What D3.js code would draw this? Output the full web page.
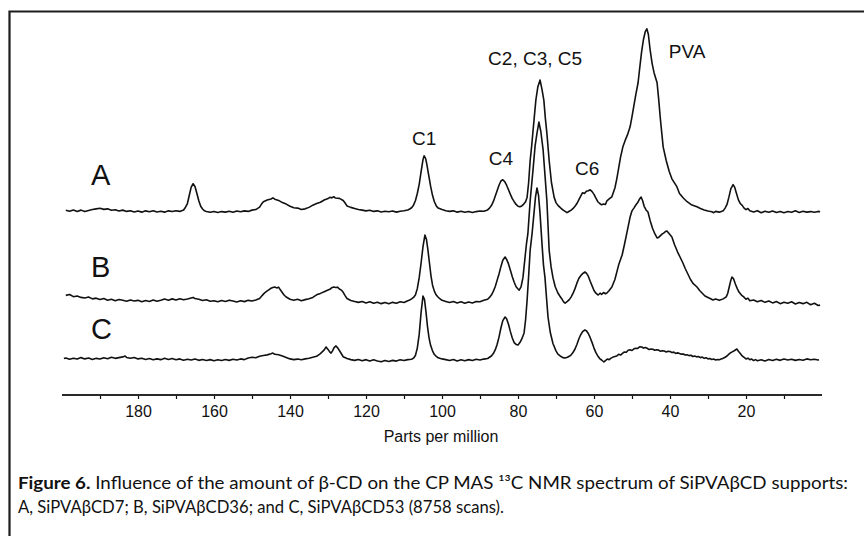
<!DOCTYPE html>
<html>
<head>
<meta charset="utf-8">
<script src="https://cdn.jsdelivr.net/npm/d3@7"></script>
<style>
  html, body { margin: 0; padding: 0; background: #fff; }
  svg { display: block; }
</style>
</head>
<body>
<svg id="chart" width="864" height="536"></svg>
<script>
// CP MAS 13C NMR spectra: [chemical shift (ppm), intensity (a.u., PVA peak of A = 100)]
const spectrumA = [
  [199,0.8],[198,0.3],[197,1.0],[196,0.2],[195,0.9],[194,0.1],[193,0.7],[192,1.2],[191,1.6],[190,1.9],
  [189,1.3],[188,1.6],[187,0.8],[186,1.1],[185,0.4],[184,0.9],[183,0.2],[182,0.6],[181,-0.1],[180,0.4],
  [179,-0.2],[178,0.5],[177,0.0],[176,0.6],[175,-0.1],[174,0.3],[173,-0.2],[172,0.5],[171,0.1],[170,0.6],
  [169,0.2],[168,1.0],[167.5,2.5],[167,4.5],[166.5,9],[166,13.5],[165.5,15.3],[165,13.8],[164.5,10],[164,6],
  [163.5,3],[163,1.5],[162.5,0.5],[162,0.2],[161,-0.3],[160,0.2],[159,-0.4],[158,0.1],[157,-0.2],[156,0.3],
  [155,-0.3],[154,0.4],[153,0.0],[152,0.5],[151,0.2],[150,0.9],[149,1.2],[148,2.5],[147.5,4.2],[147,5.5],
  [146,6.4],[145,7.0],[144.5,7.6],[144,6.9],[143,6.2],[142,5.0],[141,4.2],[140,3.0],[139,2.2],[138,2.0],
  [137,1.2],[136,1.6],[135,2.4],[134,3.6],[133,4.5],[132,5.2],[131,6.4],[130,7.2],[129.5,7.9],[129,7.6],
  [128.5,8.2],[128,7.5],[127,7.3],[126,6.2],[125.5,4.8],[125,3.2],[124,2.4],[123,1.8],[122,1.2],[121,0.9],
  [120,0.5],[119,0.8],[118,0.2],[117,0.5],[116,-0.1],[115,0.3],[114,0.0],[113,0.4],[112,-0.2],[111,0.3],
  [110,0.6],[109,1.0],[108.5,1.5],[108,2.2],[107.5,3.6],[107,6],[106.5,10],[106,15],[105.5,22],[105,28.5],
  [104.7,30.6],[104.3,29],[104,26],[103.5,20],[103,14],[102.5,9],[102,5.5],[101.5,3.2],[101,2],[100,1.2],
  [99,0.6],[98,0.2],[97,0.5],[96,-0.2],[95,0.3],[94,-0.3],[93,0.2],[92,-0.4],[91,0.1],[90,0.4],
  [89,0.3],[88,1.0],[87.5,2.0],[87,3.4],[86.5,5.5],[86,8.5],[85.5,11.5],[85,14.5],[84.5,16.8],[84,17.5],
  [83.5,16.5],[83,14.5],[82.5,12],[82,9.5],[81.5,7.2],[81,5.5],[80.5,4],[80,3],[79.5,2.7],[79,3.2],
  [78.5,4.2],[78,5.5],[77.6,8],[77.2,16],[76.8,28],[76.4,36],[76.1,43],[75.7,52],[75.3,61],[74.8,68],
  [74.2,72],[73.7,67],[73.2,61],[72.8,51],[72.4,43],[71.8,28],[71.2,16],[70.5,8],[70,5],[69.5,3.5],
  [69,2.5],[68.5,1.5],[68,0.8],[67.5,0.1],[67.1,-0.5],[66.5,0.3],[66,0.9],[65.5,1.8],[65,3],[64.5,4.5],
  [64,6.5],[63.5,8.5],[63,10.4],[62.5,10],[62,11.2],[61.5,11.5],[61,12],[60.5,11],[60,9.5],[59.5,7.5],
  [59,5.5],[58.5,4.5],[58,3.8],[57.5,4.2],[57,4],[56.6,6],[56,7],[55.3,8.2],[54.5,13],[54,18],
  [53.5,24],[53,30],[52.4,35.5],[51.8,39],[51.2,42],[50.5,46.4],[50,52],[49.5,58],[49,64],[48.4,70.5],
  [48,78],[47.5,87],[47,94],[46.5,98.5],[46.1,100],[45.7,97],[45.2,88],[44.7,81],[44.2,76],[43.4,70.5],
  [43,62],[42.5,50],[41.8,35.5],[41,28],[40.2,22],[39.5,18],[38.2,13.7],[37.5,10],[36.5,7.5],[35.5,5.5],
  [34.5,4],[33.5,3.2],[32.9,2.7],[32,1.8],[31,1.0],[30,0.4],[29,0.0],[28.5,-0.5],[28,0.2],[27,-0.2],
  [26,0.5],[25.5,2],[25,4],[24.5,8],[24,12.5],[23.4,14.8],[23,13.5],[22.5,10],[22,6.5],[21.5,4.5],
  [21,3.5],[20.5,2],[20,1.2],[19.5,1.8],[19,0.5],[18,-0.1],[17,0.6],[16,-0.5],[15,0.3],[14,-0.3],
  [13,0.4],[12,-0.4],[11,0.2],[10,-0.5],[9,0.1],[8,-0.3],[7,0.5],[6,-0.4],[5,0.3],[4,-0.2],
  [3,0.1],[2,-0.3],[1,0.2],[0.5,0.0]
];

const spectrumB = [
  [199,2.3],[198,2.8],[197,1.6],[196,2.0],[195,1.2],[194,0.9],[193,1.4],[192,0.4],[191,0.8],[190,0.1],
  [189,0.6],[188,-0.3],[187,0.2],[186,-0.6],[185,0.1],[184,-0.4],[183,-0.9],[182,-0.2],[181,-0.8],[180,-0.4],
  [179,-1.2],[178,-0.5],[177,-1.0],[176,-0.2],[175,-0.9],[174,-0.4],[173,0.3],[172,-0.3],[171,0.4],[170,-0.2],
  [169,0.5],[168,-0.1],[167,0.3],[166,0.9],[165.5,1.2],[165,0.6],[164,0.2],[163,-0.5],[162,-0.1],[161,-0.9],
  [160,-0.6],[159,-1.2],[158,-0.5],[157,-1.0],[156,-0.3],[155,-0.8],[154,-1.3],[153,-0.6],[152,-1.1],[151,-0.4],
  [150,-0.8],[149,-0.2],[148,0.6],[147.5,1.8],[147,3],[146.5,4.0],[146,4.8],[145.5,5.5],[145,6.2],[144.5,6.6],
  [144,6.9],[143.5,6.4],[143,6.8],[142.5,5.2],[142,3.8],[141.5,2.4],[141,1.4],[140,0.2],[139,-0.3],[138,0.2],
  [137,-0.6],[136,0.0],[135,0.5],[134,1.2],[133,2.6],[132,3.4],[131,4.3],[130,5.2],[129.5,5.6],[129,6.5],
  [128.5,6.9],[128,6.6],[127.5,6.8],[127,5.8],[126.5,5.2],[126,4.0],[125.5,2.2],[125,0.6],[124,-0.5],[123,-1.0],
  [122,-1.5],[121,-1.0],[120,-1.8],[119,-1.2],[118,-2.0],[117,-1.4],[116,-2.2],[115,-1.6],[114,-2.3],[113,-1.5],
  [112,-2.0],[111,-1.2],[110,-1.6],[109,-0.6],[108.5,-0.2],[108,0.4],[107.5,1.2],[107,2.5],[106.5,6],[106,12],
  [105.5,20],[105,29],[104.5,35.3],[104.1,33],[103.7,27],[103.3,20],[102.9,13],[102.5,8],[102,4.5],[101.5,2.5],
  [101,1.3],[100.5,0.4],[100,-0.4],[99,-1.0],[98,-1.6],[97,-1.0],[96,-1.8],[95,-1.2],[94,-2.0],[93,-1.3],
  [92,-1.8],[91,-1.0],[90,-1.2],[89,-0.4],[88,0.2],[87.5,1.2],[87,2.5],[86.5,4.5],[86,7],[85.5,10.5],
  [85,14],[84.5,18],[84,21.5],[83.4,23.3],[83,22],[82.5,19.5],[82,16],[81.5,12.5],[81,9.5],[80.5,7],
  [80,5.8],[79.7,5.2],[79.2,7],[78.7,12],[78.2,22],[77.8,30],[77.4,36],[76.8,54],[76,72],[75.5,84],
  [75,91],[74.5,97],[74,92],[73.4,82],[72.9,68],[72.4,54],[71.8,27],[71.3,18],[70.8,12],[70.2,7],
  [69.5,3.6],[69,2],[68.5,0.5],[68,-1.2],[67.6,-1.9],[67,-1.0],[66.5,0],[66,1.5],[65.5,3.5],[65,6],
  [64.5,9],[64,11.5],[63.5,13],[63,14.2],[62.4,15.1],[62,14.5],[61.5,12.8],[61,10],[60.5,7.5],[60,5],
  [59.5,3.5],[58.9,2.5],[58.4,3.5],[58,2.8],[57.5,3.9],[57,3.2],[56.6,3.6],[56,5],[55.3,6.9],[54.5,11],
  [54,15],[53.5,19],[53,22],[52.6,24.4],[52,30],[51.5,35],[51,40],[50.5,45.1],[50,48.5],[49.5,50],
  [49,51.7],[48.5,53],[48,55],[47.6,56],[47.2,54],[46.8,51],[46.3,49],[45.8,47.9],[45.2,43],[44.6,39],
  [44,36],[43.4,33.7],[43,34],[42.5,35],[42.1,35.8],[41.6,36.5],[41.2,37.2],[40.8,37.5],[40.2,36],[39.5,34.2],
  [38.8,30],[38,26],[37.3,23],[36.6,20],[36,17],[35.3,14],[34.6,11],[34,9],[33.5,8],[32.9,6.9],
  [32.2,5],[31.5,3.5],[30.8,2],[30,1.2],[29.3,0.5],[28.7,-0.2],[28,0.3],[27,-0.4],[26,0.4],[25.2,1.5],
  [24.8,3.5],[24.4,7],[24,10.5],[23.7,12.3],[23.3,11.5],[22.8,8.5],[22.3,6],[21.8,4],[21.2,2.5],[20.6,1.5],
  [20,0.2],[19.5,0.8],[19,-0.6],[18,-0.2],[17,-1.2],[16,-0.5],[15,-1.5],[14,-0.8],[13,-1.8],[12,-1.0],
  [11,-2.2],[10,-1.4],[9,-2.0],[8,-1.2],[7,-2.4],[6,-1.6],[5,-2.2],[4,-1.5],[3,-2.8],[2,-2.0],
  [1,-3.2],[0.5,-3.0]
];

const spectrumC = [
  [199.5,0.8],[199,1.1],[198,0.4],[197,1.0],[196,0.5],[195,1.3],[194,0.6],[193,1.1],[192,0.3],[191,0.9],
  [190,0.5],[189,1.2],[188,0.7],[187,1.5],[186,0.9],[185,1.3],[184,1.7],[183.4,2.2],[183,1.4],[182,1.0],
  [181,1.4],[180,0.6],[179,1.0],[178,0.3],[177,0.8],[176,0.1],[175,0.6],[174,0.2],[173,0.9],[172,0.3],
  [171,0.8],[170,0.1],[169,0.6],[168,-0.1],[167,0.4],[166,0.0],[165,0.5],[164,-0.2],[163,0.3],[162,-0.3],
  [161,0.2],[160,-0.4],[159,0.1],[158,-0.3],[157,0.3],[156,-0.2],[155,0.4],[154,0.0],[153,0.6],[152,0.2],
  [151,1.1],[150,1.5],[149,1.2],[148,2.0],[147,2.5],[146,2.8],[145,3.4],[144.5,3.8],[144,3.1],[143,2.9],
  [142,2.2],[141,1.4],[140,0.6],[139,0.2],[138,0.5],[137,0.1],[136,0.6],[135,1.0],[134,1.5],[133,2.0],
  [132,3.5],[131,5.5],[130.5,7.1],[130,5.8],[129.5,4.3],[129.2,3.8],[128.8,5],[128.4,6.8],[127.9,7.7],[127.4,6.5],
  [126.8,4.5],[126,1.8],[125,0.8],[124,0.2],[123,-0.2],[122,0.3],[121,-0.4],[120,0.2],[119,-0.6],[118,0.1],
  [117,-0.5],[116,-1.0],[115,-0.3],[114,-0.8],[113,-0.2],[112,-0.6],[111,0.1],[110,-0.3],[109,0.2],[108,0.4],
  [107.5,1.0],[107,2.5],[106.5,6.5],[106,14],[105.5,26],[105,35],[104.6,33],[104.2,26],[103.8,18],[103.4,12],
  [103,8],[102.5,5],[102,3],[101.5,2],[101,1.2],[100,0.6],[99,0.2],[98,-0.3],[97,0.3],[96,-0.5],
  [95,0.1],[94,-0.4],[93,0.2],[92,-0.3],[91,0.4],[90,0.0],[89,0.5],[88,0.8],[87.5,1.5],[87,2.2],
  [86.5,3.5],[86,5.5],[85.5,8.5],[85,12.5],[84.5,17.5],[84,21.5],[83.4,23.5],[83,22.5],[82.5,19.5],[82,15.5],
  [81.5,12],[81,9.5],[80.5,8.5],[80,8.2],[79.5,9.5],[79,11.5],[78.4,14.8],[78,22],[77.6,32.8],[77.2,46],
  [76.8,60],[76.3,69],[75.8,80],[75.4,89],[75,94],[74.6,90],[74.2,80],[73.7,64],[73.3,52],[72.9,45],
  [72.5,34],[72.1,23.5],[71.5,15],[70.8,9],[70,5],[69.5,3.2],[68.9,2.2],[68.2,1.3],[67.6,1.1],[67,1.5],
  [66.5,2],[66,2.8],[65.5,4.2],[65,6],[64.5,8.5],[64,11.5],[63.5,13.8],[63,15.5],[62.4,16.4],[62,16],
  [61.5,14.5],[61,12.2],[60.5,9.5],[60,6.5],[59.5,4],[59,2.2],[58.5,0.8],[58,0],[57.4,-1.1],[57,-0.3],
  [56.5,0.5],[56,0.2],[55.5,1.0],[55,1.6],[54.5,1.9],[54,2.2],[53.5,3.1],[53,2.7],[52.5,3.6],[52,4.4],
  [51.5,4.2],[51,5.3],[50.5,5.6],[50,5.2],[49.5,6.1],[49,6.4],[48.5,6.3],[48,7.2],[47.4,7.1],[47,6.5],
  [46.5,6.8],[46,6.4],[45.5,5.7],[45,6.0],[44.5,5.9],[44,5.3],[43.5,5.6],[43,5.4],[42.5,4.8],[42,5.1],
  [41.5,4.9],[41,4.4],[40.5,4.8],[40,4.6],[39.5,4.1],[39,4.3],[38.5,3.6],[38,3.9],[37.5,3.6],[37,3.2],
  [36.5,3.3],[36,2.7],[35.5,2.9],[35,2.4],[34.5,2.6],[34,1.9],[33.5,2.2],[33,1.7],[32.5,1.9],[32,1.3],
  [31.5,1.6],[31,0.9],[30.5,1.2],[30,0.6],[29.5,0.8],[29,0.3],[28.5,0.5],[28,0.0],[27.5,0.3],[27,0.1],
  [26.5,0.6],[26,1.0],[25.5,1.5],[25,2.2],[24.5,3.2],[24,4.0],[23.5,4.6],[23,5.2],[22.4,6.0],[22,4.8],
  [21.5,3.5],[21,2.2],[20.5,1.4],[20,0.6],[19.5,1.0],[19,0.2],[18.5,0.5],[18,-0.3],[17.5,0.2],[17,-0.4],
  [16,0.1],[15,-0.5],[14,0.3],[13,-0.3],[12,0.4],[11,-0.2],[10,0.5],[9,0.0],[8,0.4],[7,-0.2],
  [6,0.3],[5,-0.1],[4,0.6],[3,0.1],[2,0.4],[1,0.0],[0.8,0.2]
];

const seriesNames = ["A", "B", "C"];
const majorTicks = [180, 160, 140, 120, 100, 80, 60, 40, 20];
const minorTicks = [190, 170, 150, 130, 110, 90, 70, 50, 30, 10];
const peakNames = ["C1", "C4", "C2, C3, C5", "C6", "PVA"];
const peakShifts = [104.7, 84.5, 75.5, 61.8, 40.3];
const axisTitle = "Parts per million";
const captionLead = "Figure 6.";
const captionLine1 = " Influence of the amount of β-CD on the CP MAS \u00B9\u00B3C NMR spectrum of SiPVAβCD supports:";
const captionLine2 = "A, SiPVAβCD7; B, SiPVAβCD36; and C, SiPVAβCD53 (8758 scans).";

// ---- layout ----
const svg = d3.select("#chart");
const ink = "#111";
const labelFont = "'Liberation Sans', Arial, Helvetica, sans-serif";
const captionFont = "Lato, 'Noto Sans', sans-serif";

const x = d3.scaleLinear().domain([200, 0]).range([62, 822]);
const y = d3.scaleLinear().domain([0, 100]).range([360, 177]);

// vertical stacking of the three traces (intensity units)
const stackOffset = { A: 81, B: 33, C: 0 };
const spectra = { A: spectrumA, B: spectrumB, C: spectrumC };

// figure frame (top and left rules)
svg.append("path")
  .attr("d", "M9.5,536 V11.5 H864")
  .attr("fill", "none")
  .attr("stroke", "#1c1c1c")
  .attr("stroke-width", 2.2);

// traces
const line = d3.line()
  .x(d => x(d[0]))
  .y(d => y(d[1]))
  .curve(d3.curveLinear);

seriesNames.forEach(name => {
  const off = stackOffset[name];
  svg.append("path")
    .datum(spectra[name].map(d => [d[0], d[1] + off]))
    .attr("d", line)
    .attr("fill", "none")
    .attr("stroke", ink)
    .attr("stroke-width", 1.6)
    .attr("stroke-linejoin", "round");
});

// series letters
const letterLevel = { A: 14.6, B: 12.4, C: 11.5 };
seriesNames.forEach(name => {
  svg.append("text")
    .attr("x", 91)
    .attr("y", y(stackOffset[name] + letterLevel[name]))
    .attr("font-family", labelFont)
    .attr("font-size", 29)
    .attr("fill", ink)
    .text(name);
});

// peak assignments
const peakLevel = [117.5, 106.6, 161, 101, 165];
const peakAnchor = ["middle", "middle", "middle", "middle", "start"];
peakNames.forEach((name, i) => {
  svg.append("text")
    .attr("x", x(peakShifts[i]))
    .attr("y", y(peakLevel[i]))
    .attr("text-anchor", peakAnchor[i])
    .attr("font-family", labelFont)
    .attr("font-size", 19)
    .attr("fill", ink)
    .text(name);
});

// chemical shift axis
const axisY = 395;
const gMinor = svg.append("g")
  .attr("transform", `translate(0,${axisY})`)
  .call(d3.axisBottom(x).tickValues(minorTicks).tickSize(4).tickFormat(""));
const gMajor = svg.append("g")
  .attr("transform", `translate(0,${axisY})`)
  .call(d3.axisBottom(x).tickValues(majorTicks).tickSize(4).tickPadding(7).tickFormat(d3.format("d")));
[gMinor, gMajor].forEach(g => {
  g.select(".domain").remove();
  g.selectAll(".tick line").attr("stroke", ink).attr("stroke-width", 1.2);
});
gMajor.selectAll(".tick text")
  .attr("font-family", labelFont)
  .attr("font-size", 16)
  .attr("fill", ink);
svg.append("line")
  .attr("x1", x(200)).attr("x2", x(0))
  .attr("y1", axisY).attr("y2", axisY)
  .attr("stroke", "#2a2a2a")
  .attr("stroke-width", 1.8);

svg.append("text")
  .attr("x", 441)
  .attr("y", 442)
  .attr("text-anchor", "middle")
  .attr("font-family", labelFont)
  .attr("font-size", 16)
  .attr("fill", ink)
  .text(axisTitle);

// caption
const cap1 = svg.append("text")
  .attr("x", 18)
  .attr("y", 489)
  .attr("font-family", captionFont)
  .attr("font-size", 17)
  .attr("fill", ink)
  .attr("textLength", 830)
  .attr("lengthAdjust", "spacingAndGlyphs");
cap1.append("tspan").attr("font-weight", "bold").text(captionLead);
cap1.append("tspan").text(captionLine1);

svg.append("text")
  .attr("x", 18)
  .attr("y", 513)
  .attr("font-family", captionFont)
  .attr("font-size", 17)
  .attr("fill", ink)
  .attr("textLength", 486)
  .attr("lengthAdjust", "spacingAndGlyphs")
  .text(captionLine2);
</script>
</body>
</html>
